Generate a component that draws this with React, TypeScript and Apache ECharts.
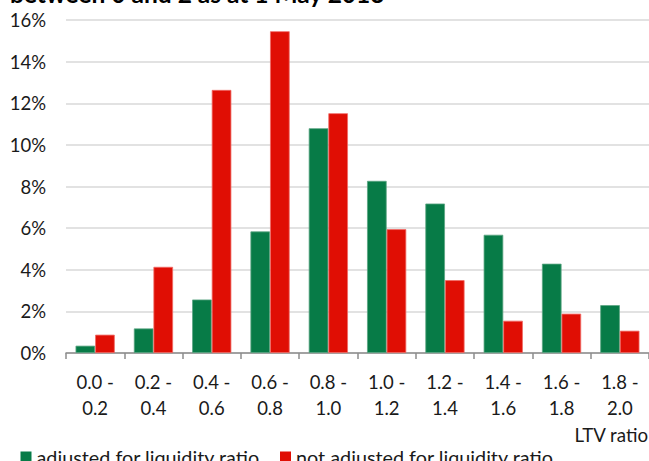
import React, { useEffect, useRef } from "react";
import * as echarts from "echarts";

const categories = [
  "0.0 -\n0.2",
  "0.2 -\n0.4",
  "0.4 -\n0.6",
  "0.6 -\n0.8",
  "0.8 -\n1.0",
  "1.0 -\n1.2",
  "1.2 -\n1.4",
  "1.4 -\n1.6",
  "1.6 -\n1.8",
  "1.8 -\n2.0",
];
const adjusted = [0.35, 1.18, 2.57, 5.84, 10.8, 8.27, 7.18, 5.68, 4.29, 2.3];
const notAdjusted = [0.88, 4.14, 12.64, 15.46, 11.52, 5.95, 3.5, 1.55, 1.89, 1.07];
const seriesNames = ["adjusted for liquidity ratio", "not adjusted for liquidity ratio"];
const titleText = "between 0 and 2 as at 1 May 2013";
const axisName = "LTV ratio";

const FONT = "Lato, 'Open Sans', sans-serif";
const TXT = "#1a1a1a";
const GREEN = "#077b47";
const RED = "#e00e04";

export default function App() {
  const ref = useRef<HTMLDivElement>(null);
  useEffect(() => {
    if (!ref.current) return;
    const chart = echarts.init(ref.current, undefined, { renderer: "svg" });
    const legendText = { fontFamily: FONT, fontSize: 19.8, color: TXT };
    chart.setOption({
      animation: false,
      backgroundColor: "#ffffff",
      textStyle: { fontFamily: FONT },
      grid: { left: 66, top: 20, width: 588, height: 333, containLabel: false },
      legend: [
        {
          data: [seriesNames[0]],
          left: 20.5,
          top: 447,
          icon: "rect",
          itemWidth: 11,
          itemHeight: 11,
          itemGap: 5,
          itemStyle: { borderWidth: 0 },
          textStyle: legendText,
          padding: 0,
        },
        {
          data: [seriesNames[1]],
          left: 280,
          top: 447,
          icon: "rect",
          itemWidth: 11,
          itemHeight: 11,
          itemGap: 5,
          itemStyle: { borderWidth: 0 },
          textStyle: legendText,
          padding: 0,
        },
      ],
      xAxis: {
        type: "category",
        data: categories,
        axisLine: { lineStyle: { color: "#8c8c8c", width: 1.5 } },
        axisTick: { show: true, alignWithLabel: false, length: 6, lineStyle: { color: "#8c8c8c", width: 1.5 } },
        axisLabel: {
          color: TXT,
          fontFamily: FONT,
          fontSize: 18.5,
          lineHeight: 26.3,
          margin: 15.5,
          interval: 0,
        },
        splitLine: { show: false },
      },
      yAxis: {
        type: "value",
        min: 0,
        max: 16,
        interval: 2,
        axisLine: { show: false },
        axisTick: { show: false },
        axisLabel: {
          color: TXT,
          fontFamily: FONT,
          fontSize: 18.5,
          margin: 20,
          formatter: (v: number) => `${v}%`,
        },
        splitLine: { lineStyle: { color: "#d9d9d9", width: 1.5 } },
      },
      graphic: [
        {
          type: "text",
          x: 10,
          y: -6.6,
          style: {
            text: titleText,
            font: `bold 24.5px ${FONT}`,
            fill: "#000000",
            verticalAlign: "middle",
          },
        },
        {
          type: "text",
          x: 648,
          y: 435,
          style: {
            text: axisName,
            font: `18.7px ${FONT}`,
            fill: TXT,
            align: "right",
            verticalAlign: "middle",
          },
        },
      ],
      series: [
        {
          name: seriesNames[0],
          type: "bar",
          data: adjusted,
          barWidth: 19.6,
          barGap: "0%",
          itemStyle: { color: GREEN, borderColor: "#5aa582", borderWidth: 0.8 },
        },
        {
          name: seriesNames[1],
          type: "bar",
          data: notAdjusted,
          barWidth: 19.6,
          barGap: "0%",
          itemStyle: { color: RED, borderColor: "#f06a64", borderWidth: 0.8 },
        },
      ],
    });
    return () => chart.dispose();
  }, []);
  return (
    <div
      ref={ref}
      style={{ position: "fixed", left: 0, top: 0, width: 649, height: 461, background: "#fff" }}
    />
  );
}
